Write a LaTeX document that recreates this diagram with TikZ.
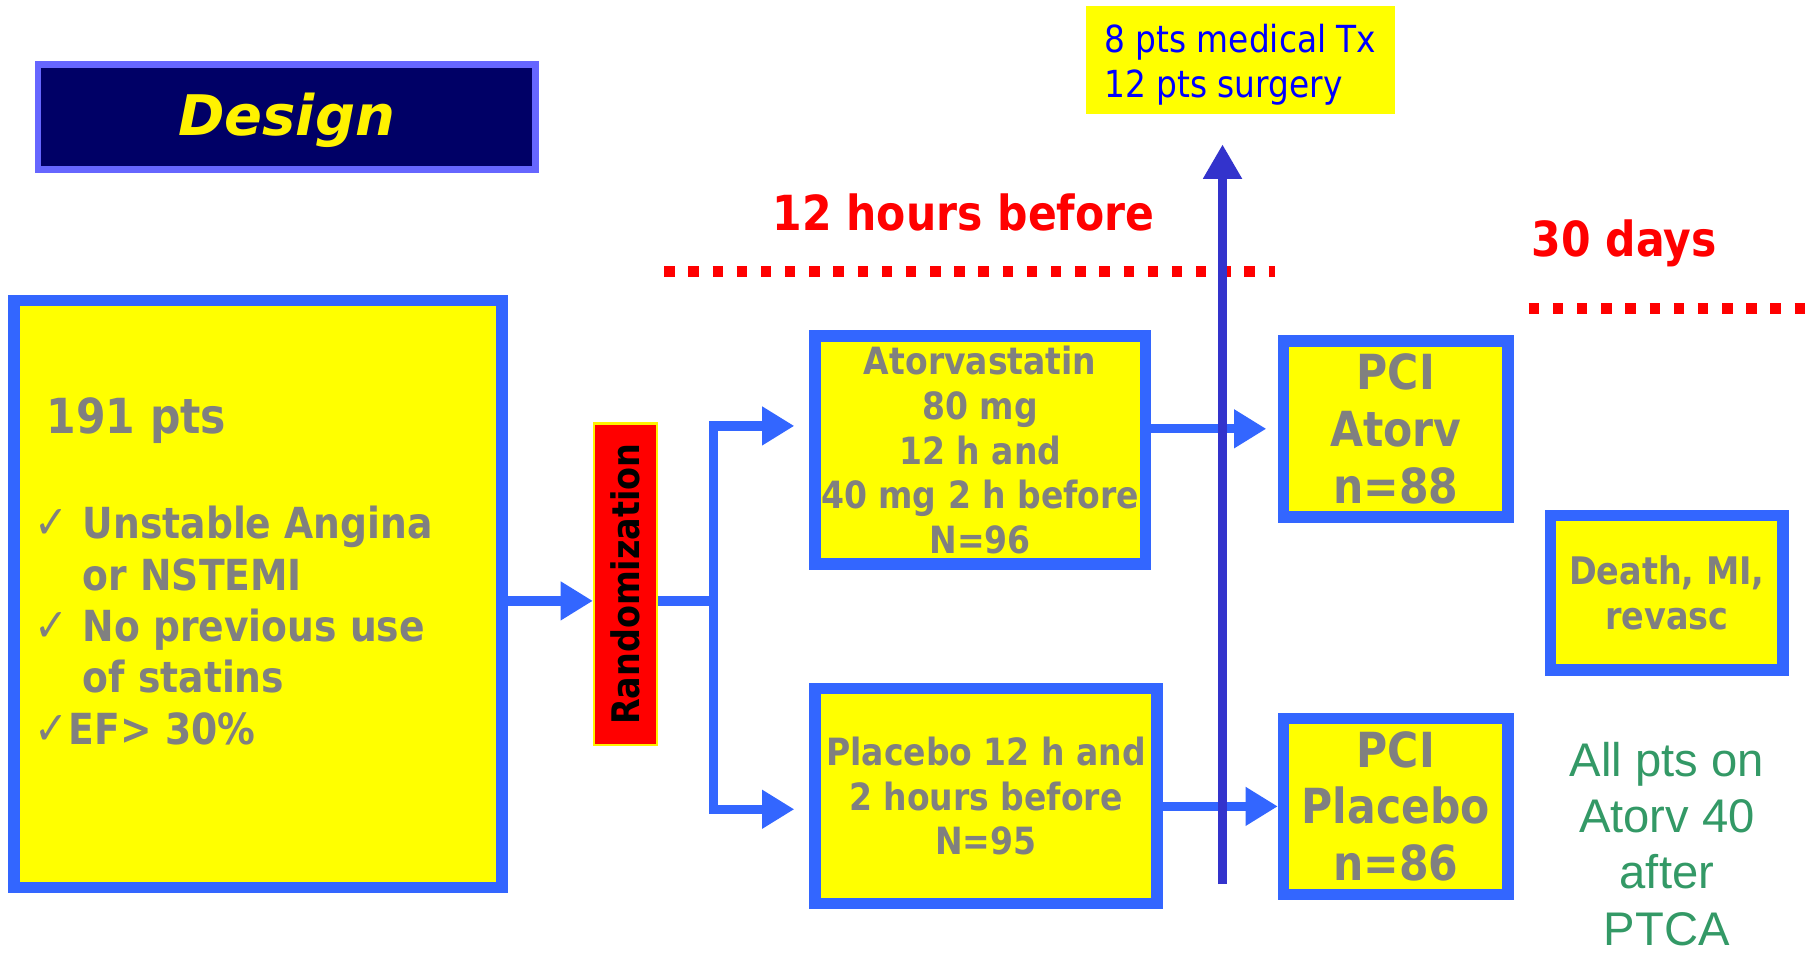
\documentclass[tikz,border=0pt]{standalone}
\usepackage{fontspec}
\setmainfont{DejaVu Sans}[FakeStretch=0.88]
\newfontfamily\dsgnfont{DejaVu Sans}
\newfontfamily\arialfont{Liberation Sans}
\usetikzlibrary{arrows.meta,calc}
\definecolor{boxblue}{HTML}{3366FF}
\definecolor{txtgrey}{HTML}{808080}
\definecolor{boxyellow}{HTML}{FFFF00}
\definecolor{dsgnblue}{HTML}{000066}
\definecolor{dsgnrim}{HTML}{6666FF}
\definecolor{upblue}{HTML}{3333CC}
\definecolor{notegreen}{HTML}{339966}
\newcommand{\chk}{{\mdseries\fontsize{20}{22.3}\selectfont ✓}}
\begin{document}
\begin{tikzpicture}[x=0.5pt,y=-0.5pt,
    bx/.style={draw=boxblue,line width=5pt,fill=boxyellow,text=txtgrey,align=center,inner sep=0pt,
      font=\bfseries\fontsize{16.3}{19.5}\selectfont},
    pci/.style={bx,minimum width=97.5pt,minimum height=76.5pt,
      font=\bfseries\fontsize{21}{24.75}\selectfont},
    arr/.style={boxblue,line width=4pt,-{Triangle[length=14pt,width=16pt]}},
    upar/.style={upblue,line width=4pt,-{Triangle[length=15pt,width=16pt]}},
    redtxt/.style={text=red,inner sep=0pt,font=\bfseries\fontsize{21}{25}\selectfont},
    reddots/.style={red,line width=5pt,dash pattern=on 4.5pt off 6pt},
    greytxt/.style={text=txtgrey,inner sep=0pt}]
  \fill[white] (0,0) rectangle (1568,830);
  \useasboundingbox (0,0) rectangle (1568,830);

  \node[draw=dsgnrim,line width=3pt,fill=dsgnblue,minimum width=216pt,minimum height=45.5pt,
    text=yellow,font=\dsgnfont\bfseries\itshape\fontsize{24.3}{29}\selectfont] (dsgn) at (249,101.5)
    {\raisebox{0pt}[\dimexpr\height+3pt\relax]{Design}};

  \node[bx,minimum width=212pt,minimum height=255pt] (pts) at (224,516) {};
  \node[greytxt,anchor=base west,font=\bfseries\fontsize{21}{25}\selectfont] (n191) at (40,377) {191 pts};
  \node[greytxt,anchor=base west,font=\bfseries\fontsize{18.6}{22.3}\selectfont] (crit) at (30,468)
    {\begin{tabular}[t]{@{}l@{\hspace{6pt}}l@{}}
      \chk & Unstable Angina\\
           & or NSTEMI\\
      \chk & No previous use\\
           & of statins\\
      \multicolumn{2}{@{}l@{}}{\chk EF> 30\%}
    \end{tabular}};

  \node[draw=yellow,line width=1pt,fill=red,minimum width=27.5pt,minimum height=139.5pt,inner sep=0pt,
    font=\bfseries\fontsize{16.5}{19.5}\selectfont] (rand) at (543.5,507.5) {\rotatebox{90}{Randomization}};

  \node[bx,minimum width=143.5pt,minimum height=99pt] (atorv) at (851.5,391)
    {Atorvastatin\\80 mg\\12 h and\\40 mg 2 h before\\N=96};
  \node[bx,minimum width=148.5pt,minimum height=93.5pt] (plac) at (856.5,691.5)
    {Placebo 12 h and\\2 hours before\\N=95};

  \node[pci] (pciA) at (1212.5,372.5) {PCI\\Atorv\\n=88};
  \node[pci] (pciP) at (1212.5,700.5) {PCI\\Placebo\\n=86};

  \node[bx,minimum width=101pt,minimum height=67pt,font=\bfseries\fontsize{16.5}{19.5}\selectfont] (death)
    at (1448,515) {Death, MI,\\revasc};

  \node[fill=boxyellow,minimum width=134.5pt,minimum height=47pt,text=blue,inner sep=0pt,
    font=\fontsize{16.2}{19.5}\selectfont] (outc) at (1077.5,52)
    {\raisebox{0pt}[\dimexpr\height+5pt\relax]{\begin{tabular}{@{}l@{}}8 pts medical Tx\\12 pts surgery\end{tabular}}};

  \node[redtxt] (hrs) at (837,185) {12 hours before};
  \node[redtxt] (days) at (1411,211) {30 days};

  \node[text=notegreen,align=center,inner sep=0pt,font=\arialfont\fontsize{20.5}{24.5}\selectfont] (note)
    at (1448,733) {All pts on\\Atorv 40\\after\\PTCA};

  \coordinate (split) at (620,522);
  \coordinate (aIn) at (690,370);
  \coordinate (pIn) at (690,703);
  \coordinate (surgB) at (1062,768);

  \draw[reddots] (577,236) -- (1108,236);
  \draw[reddots] (1328,268) -- (1568,268);

  \draw[arr] (pts.east |- split) -- (rand.west |- split);
  \draw[boxblue,line width=4pt] (rand.east |- split) -- (split);
  \draw[arr] (split) |- (aIn);
  \draw[arr] (split) |- (pIn);
  \draw[arr,shorten >=5pt] (atorv.east |- pciA) -- (pciA.west);
  \draw[arr] (plac.east |- pciP) -- (pciP.west);
  \draw[upar] (surgB) -- ($(surgB |- outc.south)+(0,26)$);
\end{tikzpicture}
\end{document}
